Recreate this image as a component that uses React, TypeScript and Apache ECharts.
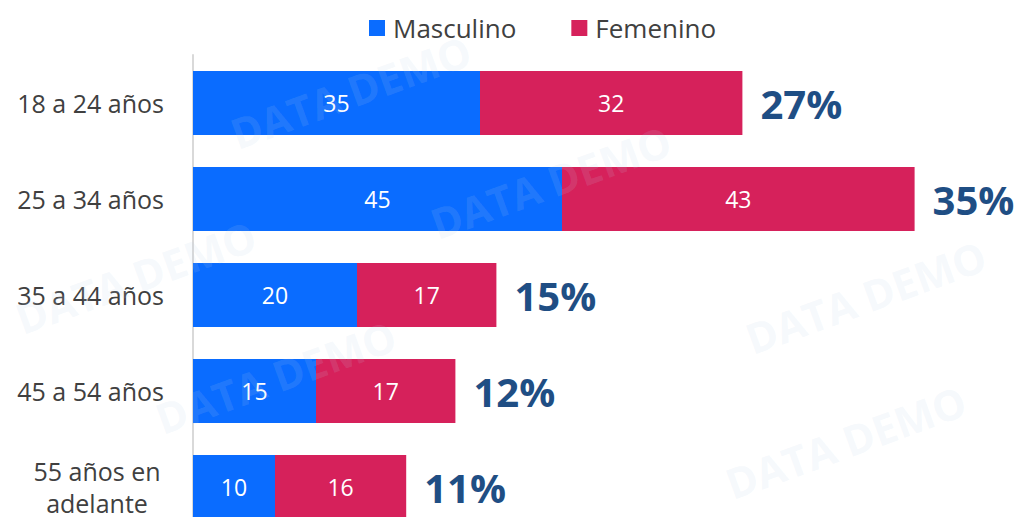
import React, { useEffect, useRef } from "react";
import * as echarts from "echarts";

const categories = ["18 a 24 años", "25 a 34 años", "35 a 44 años", "45 a 54 años", "55 años en\nadelante"];
const masculino = [35, 45, 20, 15, 10];
const femenino = [32, 43, 17, 17, 16];
const percents = ["27%", "35%", "15%", "12%", "11%"];

const FONT = "'Open Sans', sans-serif";

export default function App() {
  const ref = useRef<HTMLDivElement>(null);
  useEffect(() => {
    if (!ref.current) return;
    const chart = echarts.init(ref.current, undefined, { renderer: "svg" });
    const totals = masculino.map((m, i) => m + femenino[i]);
    const watermarks: any[] = [];
    const spots = [
      [225, 115], [425, 205], [740, 320], [150, 400], [720, 465], [10, 300],
    ];
    spots.forEach(([x, y]) => {
      watermarks.push({
        type: "text",
        x,
        y,
        rotation: (20 * Math.PI) / 180,
        z: 100,
        silent: true,
        style: {
          text: "DATA DEMO",
          font: "bold 42px 'Open Sans', sans-serif",
          fill: "rgba(190,208,232,0.14)",
        },
      });
    });
    chart.setOption({
      animation: false,
      textStyle: { fontFamily: FONT },
      legend: {
        data: ["Masculino", "Femenino"],
        top: 10,
        left: 364,
        icon: "rect",
        itemWidth: 16,
        itemHeight: 16,
        itemGap: 55,
        textStyle: { fontSize: 26, color: "#404040", fontFamily: FONT, padding: [0, 0, 0, 3] },
      },
      grid: { left: 193, top: 55, width: 820, height: 480, containLabel: false },
      xAxis: { type: "value", min: 0, max: 100, show: false },
      yAxis: {
        type: "category",
        data: categories,
        inverse: true,
        axisLine: { show: true, lineStyle: { color: "#d9d9d9", width: 2 } },
        axisTick: { show: false },
        axisLabel: {
          fontSize: 25,
          color: "#404040",
          margin: 29,
          fontFamily: FONT,
          lineHeight: 32,
          formatter: (v: string) => {
            if (v.includes("\n")) {
              return v.split("\n").map((s) => `{c|${s}}`).join("\n");
            }
            return v;
          },
          rich: {
            c: { width: 134, align: "center", fontSize: 25, color: "#404040", fontFamily: FONT, lineHeight: 32 },
          },
        },
      },
      series: [
        {
          name: "Masculino",
          type: "bar",
          stack: "a",
          barWidth: 64,
          data: masculino,
          itemStyle: { color: "#0a6cff" },
          label: { show: true, position: "inside", color: "#ffffff", fontSize: 23, fontFamily: FONT },
        },
        {
          name: "Femenino",
          type: "bar",
          stack: "a",
          barWidth: 64,
          data: femenino,
          itemStyle: { color: "#d6215b" },
          label: { show: true, position: "inside", color: "#ffffff", fontSize: 23, fontFamily: FONT },
        },
        {
          name: "Total",
          type: "scatter",
          symbolSize: 0,
          data: totals.map((t, i) => [t, i]),
          itemStyle: { opacity: 1 },
          label: {
            show: true,
            position: "right",
            distance: 18,
            formatter: (p: any) => percents[p.dataIndex],
            fontSize: 40,
            fontWeight: "bold",
            color: "#1f4e84",
            opacity: 1,
            fontFamily: FONT,
          },
          silent: true,
        },
      ],
      graphic: watermarks,
    });
    return () => chart.dispose();
  }, []);
  return (
    <div style={{ position: "absolute", left: 0, top: 0, width: 1023, height: 517, overflow: "hidden" }}>
      <div ref={ref} style={{ width: 1023, height: 540 }} />
    </div>
  );
}
